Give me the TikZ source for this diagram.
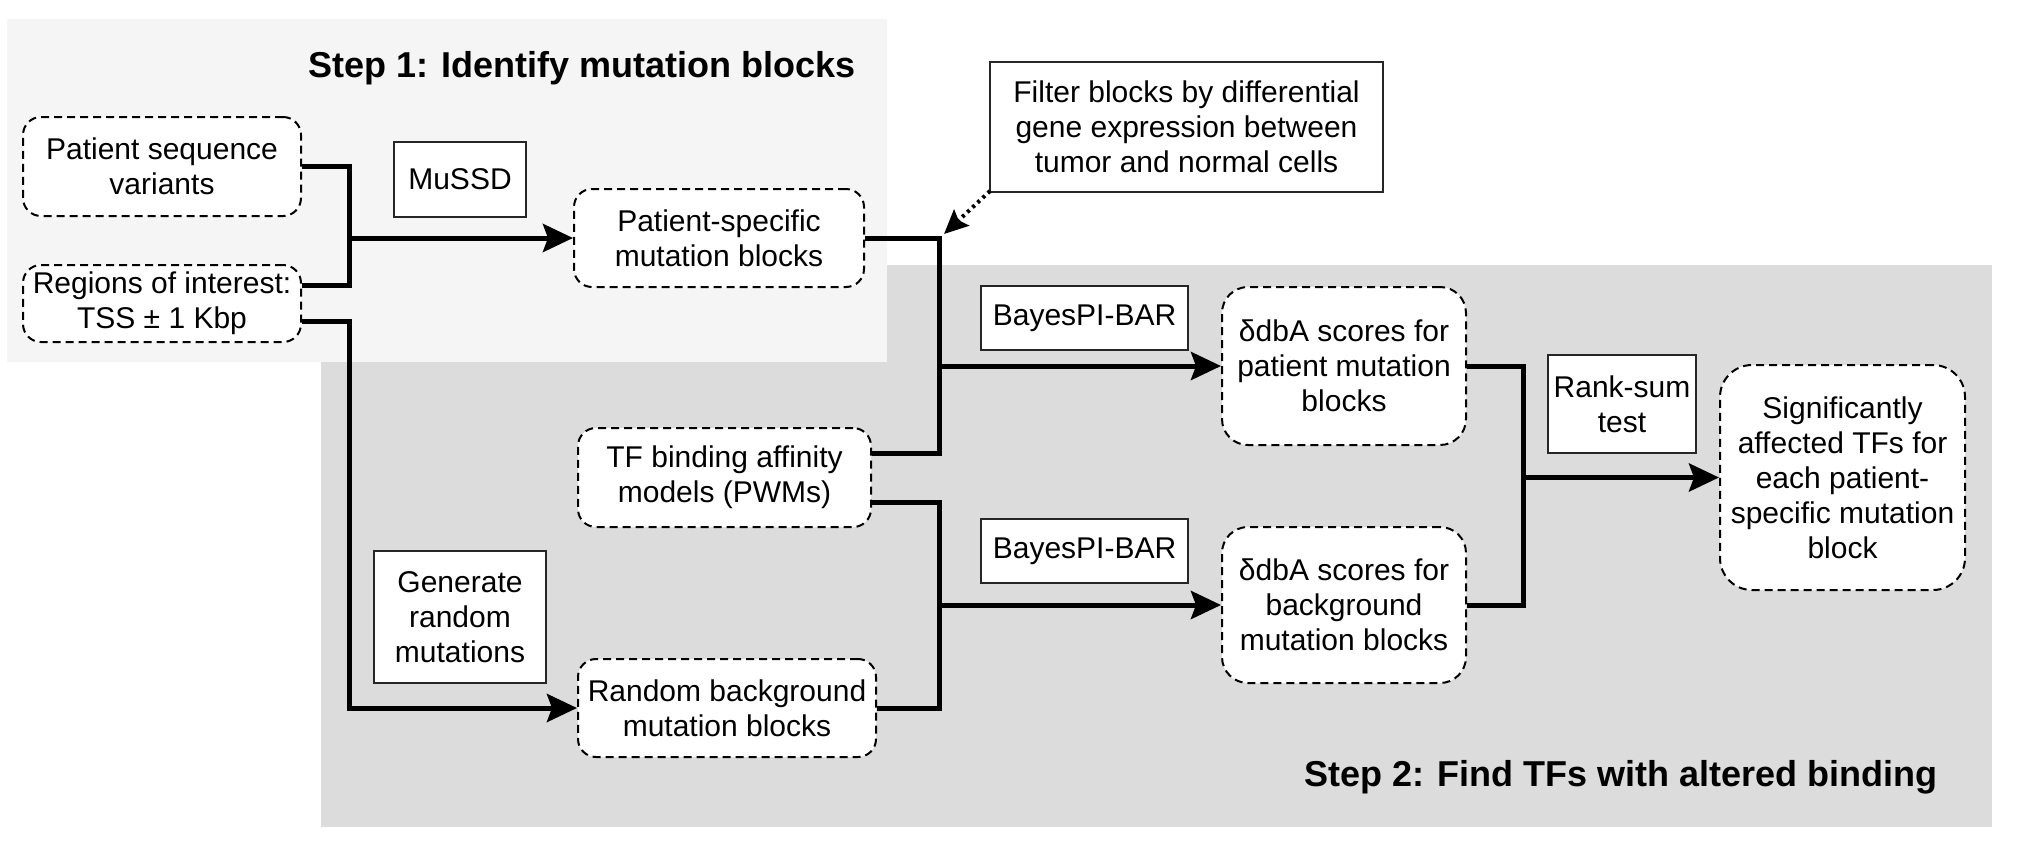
\documentclass[tikz,border=0pt]{standalone}
\usepackage{fontspec}
\setmainfont{Liberation Sans}
\usetikzlibrary{arrows.meta,calc}
\definecolor{bgone}{HTML}{F5F5F5}
\definecolor{bgtwo}{HTML}{DCDCDC}
\begin{document}
\begin{tikzpicture}[x=1pt,y=-1pt,
  txt/.style={font=\fontsize{30}{35}\selectfont, align=center, inner sep=0pt},
  dbox/.style={txt, draw=black, fill=white, line width=2pt, dash pattern=on 8pt off 5pt, rounded corners=18pt},
  sbox/.style={txt, draw=black!85, fill=white, line width=2pt},
  conn/.style={line width=5pt, line join=miter},
  arr/.style={conn, -{Stealth[length=30pt,width=28pt,inset=5pt]}},
  dotarr/.style={line width=4pt, dash pattern=on 3pt off 4pt, -{Stealth[length=24pt,width=22pt,inset=4pt]}},
  title/.style={font=\fontsize{36}{42}\selectfont\bfseries, inner sep=0pt}]
\useasboundingbox (0,0) rectangle (2018,852);
% backgrounds
\fill[bgtwo] (321,265) rectangle (1992,827);
\fill[bgone] (7,19) rectangle (887,362);
% titles
\node[title] (t1) at (582,68) {Step 1: Identify mutation blocks};
\node[title] (t2) at (1621,777) {Step 2: Find TFs with altered binding};
% nodes
\node[dbox, minimum width=278pt, minimum height=99pt] (PSV) at (162,166.5) {Patient sequence\\variants};
\node[dbox, minimum width=278pt, minimum height=77pt] (ROI) at (162,303.5) {Regions of interest:\\TSS ± 1 Kbp};
\node[sbox, minimum width=132pt, minimum height=75pt] (MuSSD) at (460,179.5) {MuSSD};
\node[dbox, minimum width=290pt, minimum height=98pt] (PSMB) at (719,238) {Patient-specific\\mutation blocks};
\node[sbox, minimum width=393pt, minimum height=130pt] (Filter) at (1186.5,127) {Filter blocks by differential\\gene expression between\\tumor and normal cells};
\node[sbox, minimum width=207pt, minimum height=64pt] (BPB1) at (1084.5,318) {BayesPI-BAR};
\node[dbox, rounded corners=26pt, minimum width=244pt, minimum height=158pt] (dP) at (1344,366) {δdbA scores for\\patient mutation\\blocks};
\node[dbox, minimum width=293pt, minimum height=99pt] (TF) at (724.5,477.5) {TF binding affinity\\models (PWMs)};
\node[sbox, minimum width=207pt, minimum height=64pt] (BPB2) at (1084.5,551) {BayesPI-BAR};
\node[dbox, rounded corners=26pt, minimum width=244pt, minimum height=156pt] (dB) at (1344,605) {δdbA scores for\\background\\mutation blocks};
\node[sbox, minimum width=172pt, minimum height=132pt] (GRM) at (460,617) {Generate\\random\\mutations};
\node[dbox, minimum width=298pt, minimum height=98pt] (RBG) at (727,708) {Random background\\mutation blocks};
\node[sbox, minimum width=148pt, minimum height=98pt] (Rank) at (1622,404) {Rank-sum\\test};
\node[dbox, rounded corners=32pt, minimum width=245pt, minimum height=225pt] (Sig) at (1842.5,477.5) {Significantly\\affected TFs for\\each patient-\\specific mutation\\block};
% junction coordinates
\coordinate (xl) at (349,0);
\coordinate (xm) at (939,0);
\coordinate (xr) at (1523,0);
\coordinate (jA) at (xl |- PSMB.west);
\coordinate (jB) at (xm |- PSMB.east);
% connectors step 1
\draw[conn] (PSV.east) -| (jA) |- ($(ROI.east)+(0,-18.5)$);
\draw[arr] (jA) -- (PSMB.west);
\draw[arr] ($(ROI.east)+(0,17.5)$) -| (xl |- RBG.west) -- (RBG.west);
% connectors step 2
\draw[conn] (PSMB.east) -- (jB) |- ($(TF.east)+(0,-24.5)$);
\draw[arr] (xm |- dP.west) -- (dP.west);
\draw[conn] ($(TF.east)+(0,24.5)$) -| (xm |- RBG.east) -- (RBG.east);
\draw[arr] (xm |- dB.west) -- (dB.west);
\draw[conn] (dP.east) -| (xr |- dB.east) -- (dB.east);
\draw[arr] (xr |- Sig.west) -- (Sig.west);
% dotted filter arrow
\draw[dotarr] ($(Filter.south west)+(1,-2)$) -- ($(jB)+(5,-4)$);
\end{tikzpicture}
\end{document}
